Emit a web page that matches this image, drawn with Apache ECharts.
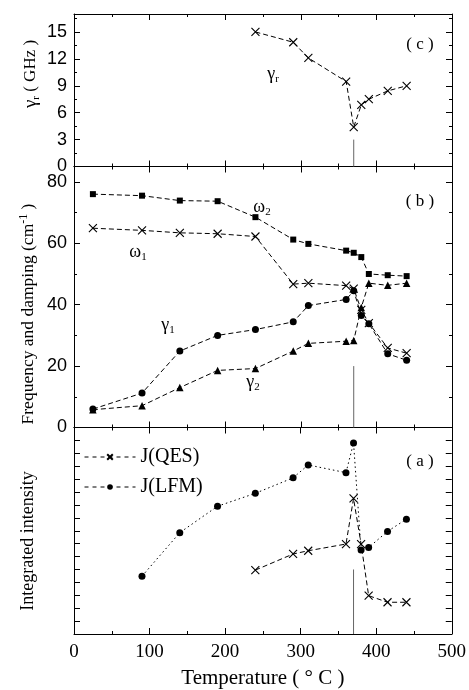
<!DOCTYPE html>
<html><head><meta charset="utf-8">
<script src="https://cdn.jsdelivr.net/npm/echarts@6/dist/echarts.min.js"></script>
<style>html,body{margin:0;padding:0;background:#fff}#c{width:469px;height:690px}</style>
</head><body><div id="c"></div>
<script>
// Panel (c)
const tC = [240, 290, 310, 360, 370, 380, 390, 415, 440];
const gammaR = [15.0, 13.85, 12.1, 9.47, 4.4, 6.86, 7.5, 8.43, 9.0];
// Panel (b)
const tB = [25, 90, 140, 190, 240, 290, 310, 360, 370, 380, 390, 415, 440];
const omega2 = [76.0, 75.5, 73.9, 73.7, 68.5, 61.2, 59.8, 57.6, 56.9, 55.5, 50.0, 49.6, 49.3];
const omega1 = [64.9, 64.2, 63.4, 63.1, 62.2, 46.7, 47.0, 46.2, 45.2, 38.3, 34.0, 25.9, 24.2];
const gamma1 = [6.0, 11.2, 24.9, 30.0, 31.9, 34.4, 39.7, 41.7, 44.5, 36.5, 33.8, 24.0, 21.9];
const gamma2 = [5.8, 7.1, 13.0, 18.6, 19.2, 24.9, 27.4, 28.1, 28.3, 39.1, 47.0, 46.3, 47.0];
// Panel (a)
const tQES = [240, 290, 310, 360, 370, 380, 390, 415, 440];
const jQES = [4.95, 6.2, 6.45, 6.97, 10.5, 6.97, 2.97, 2.46, 2.46];
const tLFM = [90, 140, 190, 240, 290, 310, 360, 370, 380, 390, 415, 440];
const jLFM = [4.48, 7.85, 9.9, 10.9, 12.1, 13.1, 12.5, 14.8, 6.5, 6.7, 7.95, 8.9];
// Transition marker
const tTrans = 370;
const transTop = [3, 20, 5];
const xTicks = ['0', '100', '200', '300', '400', '500'];

const SERIF = '"Liberation Serif", "DejaVu Serif", serif';
const SANS = '"Liberation Sans", Arial, sans-serif';
const zip = (xs, ys) => xs.map((x, i) => [x, ys[i]]);
const CROSS = 'path://M0,0L10,10M10,0L0,10';

const grids = [
  {left: 74, top: 14, width: 378, height: 152.5},
  {left: 74, top: 166.5, width: 378, height: 261},
  {left: 74, top: 427.5, width: 378, height: 207}
];

const xAxes = [], yAxes = [];
const yCfg = [
  {min: 0, max: 17, interval: 3, show: true},
  {min: 0, max: 85, interval: 20, show: true},
  {min: 0, max: 16, interval: 1, show: false}
];
const tickStyle = {color: '#000', width: 1};
for (let g = 0; g < 3; g++) {
  ['bottom', 'top'].forEach(pos => {
    xAxes.push({
      gridIndex: g, type: 'value', position: pos, min: 0, max: 500, interval: 100,
      axisLine: {show: true, onZero: false, lineStyle: {color: '#000', width: 1}},
      axisTick: {show: true, inside: true, length: 6, lineStyle: tickStyle},
      minorTick: {show: true, splitNumber: 2, length: 3, lineStyle: tickStyle},
      axisLabel: {show: g === 2 && pos === 'bottom', color: '#000', fontFamily: SERIF, fontSize: 19, margin: 9,
        formatter: v => xTicks[Math.round(v / 100)]},
      splitLine: {show: false},
      name: (g === 2 && pos === 'bottom') ? 'Temperature ( \u00b0 C )' : '',
      nameLocation: 'middle', nameGap: 34,
      nameTextStyle: {fontFamily: SERIF, fontSize: 21, color: '#000'}
    });
  });
  ['left', 'right'].forEach(pos => {
    const c = yCfg[g];
    yAxes.push({
      gridIndex: g, type: 'value', position: pos, min: c.min, max: c.max, interval: c.interval,
      axisLine: {show: true, onZero: false, lineStyle: {color: '#000', width: 1}},
      axisTick: {show: true, inside: true, length: 6, lineStyle: tickStyle},
      minorTick: {show: c.show, splitNumber: 2, length: 3, lineStyle: tickStyle},
      axisLabel: {show: c.show && pos === 'left', color: '#000', fontFamily: SANS, fontSize: 18, margin: 7,
        showMaxLabel: false},
      splitLine: {show: false}
    });
  });
}

function ser(name, xi, yi, xs, ys, symbol, size, lineType) {
  const isCross = symbol === CROSS;
  return {
    name, type: 'line', xAxisIndex: xi, yAxisIndex: yi, data: zip(xs, ys),
    symbol, symbolSize: size, showSymbol: true,
    lineStyle: {color: '#000', width: 1, type: lineType},
    itemStyle: isCross ? {color: 'rgba(0,0,0,0)', borderColor: '#000', borderWidth: 1.1}
                       : {color: '#000', borderColor: '#000', borderWidth: 0},
    emphasis: {disabled: true}, animation: false, z: 3
  };
}
const DASH = [5, 3];
const series = [
  ser('γr', 0, 0, tC, gammaR, CROSS, 8, DASH),
  ser('ω2', 2, 2, tB, omega2, 'rect', 6, DASH),
  ser('ω1', 2, 2, tB, omega1, CROSS, 8, DASH),
  ser('γ1', 2, 2, tB, gamma1, 'circle', 7, DASH),
  ser('γ2', 2, 2, tB, gamma2, 'triangle', 7.5, DASH),
  ser('J(QES)', 4, 4, tQES, jQES, CROSS, 8, DASH),
  ser('J(LFM)', 4, 4, tLFM, jLFM, 'circle', 7, [1.5, 3])
];
[0, 2, 4].forEach((ai, k) => {
  series.push({
    type: 'line', xAxisIndex: ai, yAxisIndex: ai, data: [[tTrans, 0], [tTrans, transTop[k]]],
    symbol: 'none', lineStyle: {color: '#666', width: 1}, silent: true, animation: false, z: 2
  });
});

const rich = {
  sub: {fontFamily: SERIF, fontSize: 11, verticalAlign: 'bottom', padding: [10, 0, 0, 0], fill: '#000'},
  sup: {fontFamily: SERIF, fontSize: 12, padding: [0, 0, 8, 0], fill: '#000'},
  b: {fontFamily: SERIF, fontSize: 18, fill: '#000'},
  bg: {fontFamily: SERIF, fontSize: 19, fill: '#000'},
  g: {fontFamily: SERIF, fontSize: 17, fill: '#000'},
  t: {fontFamily: SERIF, fontSize: 17.5, fill: '#000'}
};
function txt(text, x, y, size, rot) {
  return {
    type: 'text', x, y, rotation: rot || 0, z: 10,
    style: {text, fill: '#000', font: size + 'px ' + SERIF, align: 'center', verticalAlign: 'middle', rich}
  };
}

const chart = echarts.init(document.getElementById('c'), null, {renderer: 'canvas'});
chart.setOption({
  backgroundColor: '#fff',
  animation: false,
  grid: grids,
  xAxis: xAxes,
  yAxis: yAxes,
  series,
  legend: {
    data: ['J(QES)', 'J(LFM)'], orient: 'vertical', left: 84, top: 447, itemGap: 10, padding: 0,
    itemWidth: 51, itemHeight: 7, selectedMode: false,
    lineStyle: {type: [4, 4], width: 1},
    textStyle: {fontFamily: SERIF, fontSize: 20, color: '#000'}
  },
  graphic: [
    txt('{bg|γ}{sub|r}{g| ( GHz )}', 31, 74, 17, Math.PI / 2),
    txt('{t|Frequency and damping (cm}{sup|-1}{t| )}', 28, 314, 17.5, Math.PI / 2),
    txt('Integrated intensity', 28, 541, 18, Math.PI / 2),
    txt('( c )', 420, 45, 17),
    txt('{b|γ}{sub|r}', 273, 74, 18),
    txt('( b )', 420, 202, 17),
    txt('{b|ω}{sub|2}', 262, 207, 18),
    txt('{b|ω}{sub|1}', 138, 252, 18),
    txt('{b|γ}{sub|1}', 168, 325, 18),
    txt('{b|γ}{sub|2}', 253, 382, 18),
    txt('( a )', 420, 462, 17)
  ]
});
</script></body></html>
